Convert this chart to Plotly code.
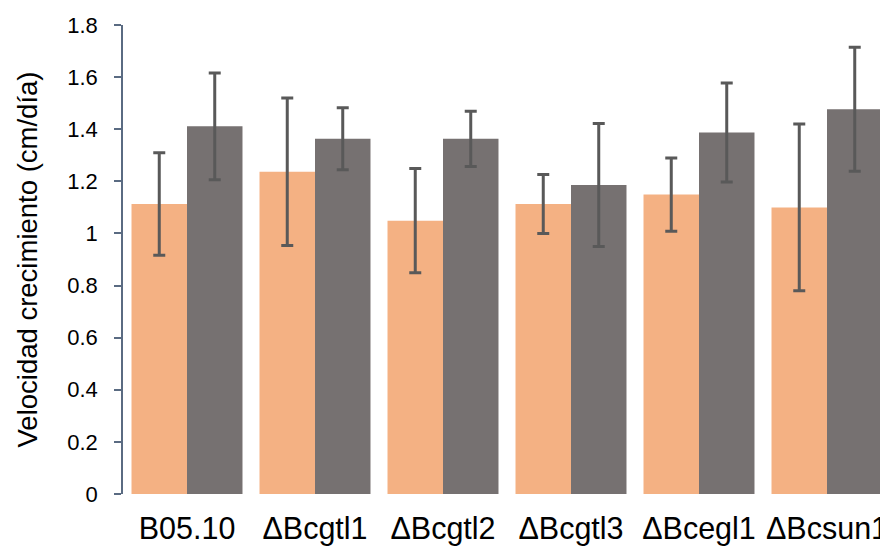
import plotly.graph_objects as go

categories = ["B05.10", "ΔBcgtl1", "ΔBcgtl2", "ΔBcgtl3", "ΔBcegl1", "ΔBcsun1"]
serie_a = [1.113, 1.237, 1.049, 1.113, 1.149, 1.100]
err_a = [0.197, 0.283, 0.200, 0.113, 0.141, 0.320]
serie_b = [1.411, 1.363, 1.363, 1.186, 1.387, 1.477]
err_b = [0.205, 0.119, 0.106, 0.236, 0.190, 0.238]
y_ticks = [0, 0.2, 0.4, 0.6, 0.8, 1.0, 1.2, 1.4, 1.6, 1.8]
y_ticklabels = ["0", "0.2", "0.4", "0.6", "0.8", "1", "1.2", "1.4", "1.6", "1.8"]

err_style = dict(type="data", visible=True, color="#595959", thickness=3, width=6)

fig = go.Figure()
fig.add_trace(go.Bar(
    x=categories, y=serie_a, marker=dict(color="#F4B183", line=dict(width=0)),
    error_y=dict(array=err_a, **err_style), showlegend=False,
))
fig.add_trace(go.Bar(
    x=categories, y=serie_b, marker=dict(color="#767171", line=dict(width=0)),
    error_y=dict(array=err_b, **err_style), showlegend=False,
))

# page body has an 8px margin: size the figure to fill the rest of the window
fig.update_layout(
    width=880, height=539,
    margin=dict(l=115, r=0, t=17, b=53, pad=0),
    paper_bgcolor="white", plot_bgcolor="white",
    barmode="group", bargap=0.133, bargroupgap=0,
    font=dict(family="Liberation Sans, Arial, sans-serif", color="black"),
    xaxis=dict(
        range=[-0.5, -0.5 + 765 / 128], showline=False, showgrid=False, zeroline=False,
        ticks="", tickfont=dict(size=30.5), ticklabelstandoff=13,
    ),
    yaxis=dict(
        range=[0, 1.8], tickvals=y_ticks, ticktext=y_ticklabels,
        showline=True, linecolor="#5A6B82", linewidth=1.5,
        ticks="outside", ticklen=7, tickcolor="#5A6B82", tickwidth=1.5,
        showgrid=False, zeroline=False, tickfont=dict(size=22),
        ticklabelstandoff=12,
        title=dict(text="Velocidad crecimiento (cm/día)", font=dict(size=27.5), standoff=22),
    ),
)

fig.write_html("out.html")
